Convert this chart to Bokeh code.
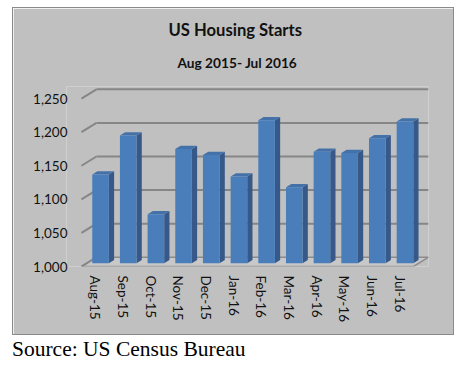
from bokeh.plotting import figure
from bokeh.models import (FactorRange, Range1d, LinearAxis, CategoricalAxis, FixedTicker,
                          NumeralTickFormatter, Title, ColumnDataSource, Div)
from bokeh.layouts import column
from bokeh.transform import dodge
from bokeh.embed import file_html
from bokeh.resources import INLINE

# ---- data ----
months = ["Aug-15", "Sep-15", "Oct-15", "Nov-15", "Dec-15", "Jan-16",
          "Feb-16", "Mar-16", "Apr-16", "May-16", "Jun-16", "Jul-16"]
starts = [1132, 1190, 1073, 1170, 1161, 1129, 1213, 1113, 1166, 1164, 1186, 1211]
y_ticks = [1000, 1050, 1100, 1150, 1200, 1250]
title_text = "US Housing Starts"
subtitle_text = "Aug 2015- Jul 2016"
source_text = "Source: US Census Bureau"

# ---- styling ----
GRAY = "#c0c0c0"
GRID = "#868686"
FRONT = "#4a7ebb"
SIDE = "#36598a"
TOP = "#4472a8"
FONT = "Lato"
PAD = 0.54                  # category padding (absolute)
DX_BACK, DY_BACK = 0.542, 13.8  # back wall depth offset (cat units, value units)
DX1, DY1 = 0.19, 4.9        # bar front depth
DX2, DY2 = 0.38, 9.7        # bar back depth
BW = 0.6
Y0, Y1 = 1000, 1268

p = figure(x_range=FactorRange(*months, range_padding=PAD, range_padding_units="absolute"),
           y_range=Range1d(Y0, Y1), width=442, height=328,
           output_backend="svg", toolbar_location=None,
           x_axis_location=None, y_axis_location=None,
           min_border_left=53, min_border_right=27, min_border_bottom=70, min_border_top=78,
           background_fill_color=GRAY, border_fill_color=GRAY, outline_line_color=None,
           margin=(7, 0, 0, 12))
p.grid.visible = False
p.styles = {"border": "1px solid #8a8a8a"}

# titles
p.add_layout(Title(text=subtitle_text, align="left", offset=111, vertical_align="top",
                   text_font=FONT, text_font_size="13.7px", text_font_style="bold",
                   text_color="#111111", standoff=28), "above")
p.add_layout(Title(text=title_text, align="left", offset=102, text_font=FONT,
                   text_font_size="16.6px", text_font_style="bold", text_color="#111111",
                   standoff=0), "above")

# axes
yaxis = LinearAxis(ticker=FixedTicker(ticks=y_ticks), formatter=NumeralTickFormatter(format="0,0"),
                   axis_line_color=None, major_tick_line_color=None, minor_tick_line_color=None,
                   major_tick_out=0, major_tick_in=0, minor_tick_out=0, minor_tick_in=0,
                   major_label_standoff=-1, major_label_text_font=FONT,
                   major_label_text_font_size="13.5px", major_label_text_color="#111111")
p.add_layout(yaxis, "left")
xaxis = CategoricalAxis(axis_line_color=None, major_tick_line_color=None,
                        major_tick_out=0, major_tick_in=0,
                        major_label_orientation="vertical", major_label_standoff=9,
                        major_label_text_font=FONT, major_label_text_font_size="13.5px",
                        major_label_text_color="#111111")
p.add_layout(xaxis, "below")

first, last = months[0], months[-1]

# floor
p.patch(x=[(first, -0.5), (last, 0.5), (last, 0.5 + DX_BACK), (first, -0.5 + DX_BACK)],
        y=[Y0, Y0, Y0 + DY_BACK, Y0 + DY_BACK],
        fill_color="#c8c8c8", line_color="#8c8c8c", line_width=1.5)

# back wall gridlines
back = [v for v in y_ticks if v > Y0]
p.segment(x0=[(first, -0.5 + DX_BACK)] * len(back), x1=[(last, 0.5 + DX_BACK)] * len(back),
          y0=[v + DY_BACK for v in back], y1=[v + DY_BACK for v in back],
          line_color=GRID, line_width=2)
# side diagonals
p.segment(x0=[(first, -0.5)] * len(y_ticks), x1=[(first, -0.5 + DX_BACK)] * len(y_ticks),
          y0=y_ticks, y1=[v + DY_BACK for v in y_ticks], line_color=GRID, line_width=2)

# bars
side_xs, side_ys, top_xs, top_ys = [], [], [], []
for m, v in zip(months, starts):
    l1, r1 = DX1 - BW / 2, DX1 + BW / 2
    l2, r2 = DX2 - BW / 2, DX2 + BW / 2
    side_xs.append([(m, r1), (m, r1), (m, r2), (m, r2)])
    side_ys.append([Y0 + DY1, v + DY1, v + DY2, Y0 + DY2])
    top_xs.append([(m, l1), (m, r1), (m, r2), (m, l2)])
    top_ys.append([v + DY1, v + DY1, v + DY2, v + DY2])

p.patches(xs=side_xs, ys=side_ys, fill_color=SIDE, line_color=None)
p.patches(xs=top_xs, ys=top_ys, fill_color=TOP, line_color=None)

src = ColumnDataSource(dict(month=months, top=[v + DY1 for v in starts]))
p.vbar(x=dodge("month", DX1, range=p.x_range), top="top", bottom=Y0 + DY1, width=BW,
       source=src, fill_color=FRONT, line_color=None)

div = Div(text=source_text, width=300, height=16, margin=(4, 0, 0, 12),
          styles={"font-family": "Liberation Serif", "font-size": "21.5px",
                  "line-height": "1", "color": "#000000", "overflow": "visible",
                  "white-space": "nowrap"})

layout = column(p, div, spacing=0)
open("out.html", "w").write(file_html(layout, INLINE))
